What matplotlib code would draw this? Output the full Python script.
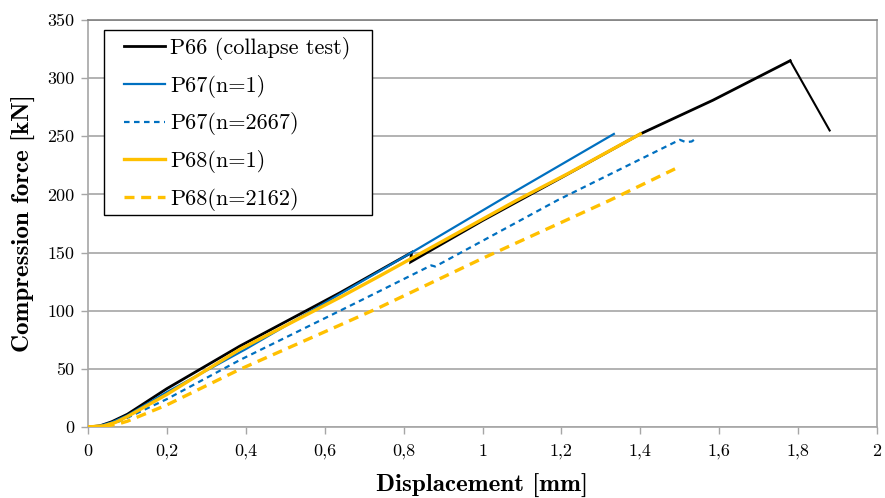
import matplotlib
matplotlib.use("Agg")
import matplotlib.pyplot as plt
from matplotlib.patches import Rectangle

# ---- data ----
p66_x = [0, 0.03, 0.06, 0.10, 0.20, 0.385, 0.639, 0.82, 0.818, 1.00, 1.20, 1.40, 1.584, 1.78]
p66_y = [0, 1, 4.5, 11, 33, 69.6, 115.5, 150, 142, 177.5, 214.5, 252, 281, 315]
p66_drop_x = [1.78, 1.88]
p66_drop_y = [315, 255]

p67_1_x = [0, 0.03, 0.06, 0.10, 0.20, 0.40, 0.639, 0.82, 1.044, 1.333]
p67_1_y = [0, 1, 4, 10, 30, 67, 114.4, 150, 195, 252]

p67_n_x = [0, 0.04, 0.07, 0.10, 0.20, 0.385, 0.639, 0.74, 0.87, 0.88, 1.19, 1.50, 1.515, 1.53, 1.545]
p67_n_y = [0, 1, 3.5, 8, 24, 57.6, 100, 117, 139, 138, 195, 247, 245, 245.5, 249]

p68_1_x = [0, 0.04, 0.07, 0.10, 0.20, 0.385, 0.639, 0.74, 1.087, 1.217, 1.40]
p68_1_y = [0, 1, 4, 9, 28, 66.8, 111.5, 130, 195, 218, 252]

p68_n_x = [0, 0.05, 0.08, 0.10, 0.20, 0.385, 0.639, 0.74, 1.00, 1.323, 1.488]
p68_n_y = [0, 1, 3, 5, 19, 49.6, 87.7, 103, 145, 195, 222]

x_ticks = [0, 0.2, 0.4, 0.6, 0.8, 1.0, 1.2, 1.4, 1.6, 1.8, 2.0]
x_tick_labels = ["0", "0,2", "0,4", "0,6", "0,8", "1", "1,2", "1,4", "1,6", "1,8", "2"]
y_ticks = [0, 50, 100, 150, 200, 250, 300, 350]

labels = ["P66 (collapse test)", "P67(n=1)", "P67(n=2667)", "P68(n=1)", "P68(n=2162)"]

BLUE = "#0070C0"
YELLOW = "#FFC000"
GRID = "#A6A6A6"

plt.rcParams["font.family"] = ["cmr10", "DejaVu Serif"]
plt.rcParams["axes.unicode_minus"] = False
plt.rcParams["axes.formatter.use_mathtext"] = False

W, H = 885, 498
L, R, T, B = 88, 877, 20, 427
fig = plt.figure(figsize=(W/100, H/100), dpi=100)
ax = fig.add_axes([L/W, 1-B/H, (R-L)/W, (B-T)/H])

def ax_xy(px, py):
    return (px - L) / (R - L), (B - py) / (B - T)

l1, = ax.plot(p66_x, p66_y, color="black", lw=2.0, solid_joinstyle="miter", zorder=3)
ax.plot(p66_drop_x, p66_drop_y, color="black", lw=1.5, zorder=3)
l2, = ax.plot(p67_1_x, p67_1_y, color=BLUE, lw=1.6, zorder=4)
l3, = ax.plot(p67_n_x, p67_n_y, color=BLUE, lw=1.6, ls=(0, (2.5, 2)), zorder=4)
l4, = ax.plot(p68_1_x, p68_1_y, color=YELLOW, lw=2.4, zorder=5)
l5, = ax.plot(p68_n_x, p68_n_y, color=YELLOW, lw=2.4, ls=(0, (3, 2)), zorder=5)

ax.set_xlim(0, 2)
ax.set_ylim(0, 350)
ax.set_xticks(x_ticks)
ax.set_xticklabels(x_tick_labels)
ax.set_yticks(y_ticks)
ax.set_yticklabels([str(v) for v in y_ticks])
ax.tick_params(axis="both", labelsize=13, color=GRID, length=5, width=1.0, direction="out")
ax.tick_params(axis="x", pad=7)
ax.tick_params(axis="y", pad=5)
ax.yaxis.grid(True, color=GRID, lw=1.2)
ax.set_axisbelow(True)
for s in ["left", "bottom", "right"]:
    ax.spines[s].set_color(GRID)
    ax.spines[s].set_linewidth(1.2)
ax.spines["top"].set_color("#808080")
ax.spines["top"].set_linewidth(1.2)

ax.set_xlabel("Displacement [mm]", fontsize=18, family=["cmb10", "DejaVu Serif"], labelpad=11)
ax.set_ylabel("Compression force [kN]", fontsize=18, family=["cmb10", "DejaVu Serif"], labelpad=8)

# legend frame (drawn as a box) and legend entries
x0, y0 = ax_xy(104, 215)
x1, y1 = ax_xy(372, 30)
ax.add_patch(Rectangle((x0, y0), x1 - x0, y1 - y0, transform=ax.transAxes,
                       facecolor="white", edgecolor="black", lw=1.0, zorder=6))
ax_anchor = ax_xy(124, 37)
leg = ax.legend([l1, l2, l3, l4, l5], labels, loc="upper left",
                bbox_to_anchor=ax_anchor, fontsize=16, frameon=False,
                handlelength=1.85, handletextpad=0.22, labelspacing=0.66,
                borderpad=0, borderaxespad=0)
leg.set_zorder(7)

fig.savefig("out.png", dpi=100)
